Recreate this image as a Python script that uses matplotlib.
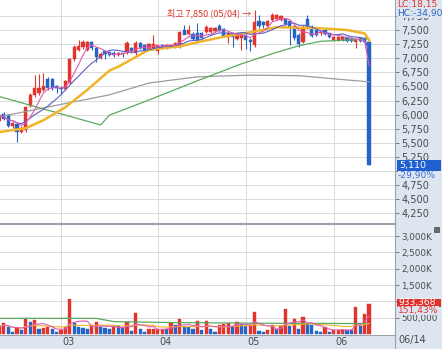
import matplotlib
matplotlib.use("Agg")
import matplotlib.pyplot as plt
from matplotlib.patches import Rectangle
from matplotlib.lines import Line2D
import numpy as np
import pandas as pd

plt.rcParams['font.family'] = ['DejaVu Sans']

# ---------------- data ----------------
opens = [5880, 6010, 5990, 5790, 5830, 5690, 5730, 6160, 6350, 6380,
         6440, 6640, 6630, 6500, 6480, 6460, 6560, 6980, 7150, 7200,
         7150, 7290, 7180, 7000, 7120, 7110, 7100, 7060, 7090, 7090,
         7180, 7090, 7270, 7240, 7160, 7160, 7130, 7230, 7180, 7210,
         7200, 7200, 7500, 7430, 7430, 7450, 7440, 7460, 7470, 7480,
         7570, 7510, 7380, 7440, 7340, 7350, 7420, 7330, 7240, 7660,
         7640, 7570, 7680, 7690, 7680, 7700, 7660, 7570, 7420, 7290,
         7700, 7560, 7500, 7440, 7500, 7440, 7320, 7320, 7320, 7370,
         7360, 7290, 7360, 7350, 7290]
highs = [6010, 6050, 6010, 5870, 5850, 5790, 6160, 6380, 6700, 6720,
         6730, 6660, 6650, 6520, 6500, 6620, 7000, 7230, 7320, 7320,
         7310, 7300, 7200, 7110, 7140, 7130, 7120, 7110, 7100, 7300,
         7200, 7310, 7290, 7260, 7270, 7420, 7240, 7250, 7260, 7260,
         7290, 7480, 7590, 7590, 7460, 7620, 7460, 7580, 7560, 7550,
         7600, 7530, 7460, 7460, 7460, 7460, 7440, 7350, 7850, 7770,
         7660, 7680, 7800, 7780, 7770, 7720, 7680, 7590, 7440, 7580,
         7760, 7580, 7520, 7490, 7520, 7450, 7400, 7390, 7390, 7380,
         7380, 7360, 7380, 7370, 7300]
lows = [5860, 5900, 5780, 5770, 5520, 5670, 5700, 6130, 6320, 6350,
        6410, 6440, 6440, 6390, 6370, 6440, 6540, 6950, 7120, 7170,
        7130, 7150, 6930, 6980, 6990, 7040, 7030, 7040, 7030, 7070,
        7100, 7060, 7160, 7120, 7140, 7140, 7080, 7160, 7160, 7190,
        7180, 7180, 7430, 7410, 7320, 7300, 7340, 7440, 7450, 7460,
        7480, 7380, 7270, 7200, 7320, 7150, 7170, 7130, 7200, 7540,
        7540, 7550, 7660, 7670, 7660, 7580, 7230, 7330, 7190, 7270,
        7520, 7370, 7390, 7420, 7410, 7360, 7300, 7300, 7300, 7290,
        7280, 7180, 7290, 7180, 5110]
closes = [5990, 5930, 5800, 5850, 5700, 5760, 6140, 6340, 6470, 6470,
          6500, 6470, 6470, 6470, 6450, 6590, 6980, 7200, 7210, 7290,
          7290, 7180, 7020, 7080, 7080, 7060, 7060, 7090, 7070, 7270,
          7120, 7270, 7180, 7140, 7250, 7250, 7230, 7180, 7240, 7240,
          7270, 7460, 7420, 7500, 7340, 7320, 7360, 7550, 7540, 7530,
          7480, 7400, 7440, 7380, 7410, 7440, 7320, 7280, 7640, 7570,
          7590, 7660, 7760, 7760, 7740, 7600, 7560, 7350, 7260, 7560,
          7540, 7390, 7410, 7470, 7430, 7380, 7380, 7370, 7370, 7310,
          7300, 7340, 7310, 7290, 5110]
volumes_k = [225, 327, 204, 72, 174, 123, 450, 378, 430, 143,
             194, 200, 143, 72, 123, 204, 1064, 327, 225, 174,
             165, 276, 358, 225, 174, 143, 245, 240, 174, 358,
             102, 634, 143, 72, 143, 150, 150, 160, 143, 327,
             276, 450, 204, 200, 143, 399, 123, 399, 143, 72,
             276, 307, 327, 204, 368, 310, 260, 280, 665, 102,
             72, 123, 276, 143, 245, 757, 245, 470, 143, 532,
             307, 276, 102, 72, 225, 72, 123, 130, 135, 123,
             115, 818, 245, 613, 933]

# moving-average lines read at sample points (index, value)
ma20_idx = [0, 6, 10, 15, 20, 25, 27, 34, 41, 46, 51, 57, 63, 68, 72, 79, 83, 84]
ma20_val = [5690, 5760, 5900, 6130, 6440, 6780, 6850, 7150, 7210, 7300,
            7380, 7460, 7550, 7540, 7535, 7500, 7440, 7320]
ma60_idx = [0, 23, 25, 34, 45, 55, 62, 68, 73, 84]
ma60_val = [6320, 5816, 5990, 6259, 6600, 6900, 7080, 7220, 7300, 7340]
ma120_idx = [0, 12, 25, 34, 45, 57, 68, 84]
ma120_val = [5960, 6150, 6350, 6560, 6670, 6700, 6690, 6580]
vma60_idx = [0, 22, 26, 40, 60, 84]
vma60_k = [480, 480, 380, 350, 330, 320]

month_ticks = [14, 36, 56, 76]
month_labels = ['03', '04', '05', '06']
price_ticks = [4250, 4500, 4750, 5000, 5250, 5500, 5750, 6000, 6250,
               6500, 6750, 7000, 7250, 7500, 7750]
# 5,000 is hidden behind the current-price box in the reference
price_tick_labels = ['4,250', '4,500', '4,750', '', '5,250', '5,500', '5,750',
                     '6,000', '6,250', '6,500', '6,750', '7,000', '7,250',
                     '7,500', '7,750']
vol_ticks = [500000, 1000000, 1500000, 2000000, 2500000, 3000000]
# 1,000K is hidden behind the current-volume box in the reference
vol_tick_labels = ['500,000', '', '1,500K', '2,000K', '2,500K', '3,000K']

high_label = '최고 7,850 (05/04) →'
last_date = '06/14'
last_price_text = '5,110'
last_change_text = '-29,90%'
last_vol_text = '933,368'
last_vol_change = '151,43%'
lc_text = 'LC:18,15'
hc_text = 'HC:-34,90'

# ---------------- styling ----------------
RED = '#e0342c'
BLUE = '#2563c4'
BG = '#dde6f0'
GRID = '#dadada'
SPINE = '#9aa3ad'
TXT = '#4a4a4a'

W, H = 442, 349
fig = plt.figure(figsize=(W / 100, H / 100), dpi=100, facecolor=BG)


def fx(px):
    return px / W


def fy(py):
    return 1 - py / H


PANEL_R = 395
ax = fig.add_axes([0, fy(223), fx(PANEL_R), 223 / H])
axv = fig.add_axes([0, fy(335), fx(PANEL_R), (335 - 224) / H])

o = np.array(opens, float)
h = np.array(highs, float)
l = np.array(lows, float)
c = np.array(closes, float)
x = np.arange(len(c))
cols = np.where(c >= o, RED, BLUE)

XL = (0.14, 89.9)

# price panel
ax.set_facecolor('white')
ax.vlines(x, l, h, colors=cols, lw=0.8, zorder=2)
body_b = np.minimum(o, c)
body_h = np.maximum(np.abs(c - o), 10)
ax.bar(x, body_h, bottom=body_b, width=0.72, color=cols, edgecolor=cols,
       linewidth=0.3, zorder=2.5)

cs = pd.Series(c)
ax.plot(ma120_idx, ma120_val, color='#9c9c9c', lw=0.9, zorder=3)
ax.plot(ma60_idx, ma60_val, color='#5aaa5e', lw=0.9, zorder=3)
ax.plot(ma20_idx, ma20_val, color='#f0b429', lw=1.8, zorder=3)
ax.plot(x, cs.rolling(10, min_periods=1).mean(), color='#5b5fc7', lw=0.8, zorder=3.2)
ax.plot(x, cs.rolling(5, min_periods=1).mean(), color='#e05bb5', lw=0.8, zorder=3.3)

ax.set_xlim(*XL)
ax.set_ylim(4078, 8032)
ax.set_yticks(price_ticks)
ax.set_yticklabels(price_tick_labels)
ax.yaxis.tick_right()
ax.tick_params(axis='y', direction='out', length=3, width=0.6, pad=1.5,
               labelsize=7, color='#666', labelcolor=TXT)
ax.set_xticks(month_ticks)
ax.tick_params(axis='x', length=0, labelbottom=False)
ax.grid(True, color=GRID, lw=0.7, zorder=0)
for s in ['left', 'top']:
    ax.spines[s].set_visible(False)
for s in ['right', 'bottom']:
    ax.spines[s].set_color(SPINE)
    ax.spines[s].set_linewidth(0.8)

imax = int(np.argmax(h))
ax.text(imax - 0.8, h[imax] - 55, high_label, ha='right', va='center',
        fontsize=6.5, color=RED, family=['Noto Sans CJK KR', 'DejaVu Sans'], zorder=5)

# volume panel
v = np.array(volumes_k, float) * 1000
vcols = [RED] + [RED if v[i] >= v[i - 1] else BLUE for i in range(1, len(v))]
axv.set_facecolor('white')
axv.bar(x, v, width=0.72, color=vcols, edgecolor=vcols, linewidth=0.3, zorder=2)
vs = pd.Series(v)
axv.plot(vma60_idx, np.array(vma60_k) * 1000, color='#5aaa5e', lw=0.9, zorder=3)
axv.plot(x, vs.rolling(20, min_periods=1).mean(), color='#f0b429', lw=0.8, zorder=3)
axv.plot(x, vs.rolling(5, min_periods=1).mean(), color='#e05bb5', lw=0.8, zorder=3)
axv.set_xlim(*XL)
axv.set_ylim(-30700, 3374000)
axv.set_yticks(vol_ticks)
axv.set_yticklabels(vol_tick_labels)
axv.yaxis.tick_right()
axv.tick_params(axis='y', direction='out', length=3, width=0.6, pad=1.5,
                labelsize=6.3, color='#666', labelcolor=TXT)
axv.set_xticks(month_ticks)
axv.tick_params(axis='x', length=0, labelbottom=False)
axv.grid(True, color=GRID, lw=0.7, zorder=0)
axv.spines['left'].set_visible(False)
for s in ['right', 'bottom', 'top']:
    axv.spines[s].set_color(SPINE)
    axv.spines[s].set_linewidth(0.8)

for t, lab in zip(month_ticks, month_labels):
    axv.text(t + 0.35, -0.02, lab, transform=axv.get_xaxis_transform(),
             ha='left', va='top', fontsize=7, color=TXT, clip_on=False)

# right-axis overlays
fig.add_artist(Line2D([fx(PANEL_R), fx(PANEL_R)], [fy(335), fy(349)], color=SPINE, lw=0.8))
fig.text(fx(398), fy(340.5), last_date, fontsize=7, color=TXT, va='center', ha='left')

fig.text(fx(397), fy(4.5), lc_text, fontsize=6.6, color=RED, va='center', ha='left',
         bbox=dict(facecolor=BG, edgecolor='none', pad=0.2))
fig.text(fx(397), fy(13.5), hc_text, fontsize=6.6, color=BLUE, va='center', ha='left',
         bbox=dict(facecolor=BG, edgecolor='none', pad=0.2))

fig.add_artist(Rectangle((fx(397), fy(170.5)), fx(44), 10.5 / H, transform=fig.transFigure,
                         facecolor='#1f5fd0', edgecolor='none'))
fig.text(fx(399), fy(165.3), last_price_text, fontsize=6.8, color='white', va='center', ha='left')
fig.text(fx(398), fy(175.5), last_change_text, fontsize=6.6, color='#3b6fd6', va='center', ha='left',
         bbox=dict(facecolor=BG, edgecolor='none', pad=0.2))

fig.add_artist(Rectangle((fx(397), fy(307)), fx(44), 8.5 / H, transform=fig.transFigure,
                         facecolor='#e0302a', edgecolor='none'))
fig.text(fx(398.5), fy(302.8), last_vol_text, fontsize=6.6, color='white', va='center', ha='left')
fig.text(fx(398), fy(310.5), last_vol_change, fontsize=6.6, color=RED, va='center', ha='left',
         bbox=dict(facecolor=BG, edgecolor='none', pad=0.2))

fig.add_artist(Rectangle((fx(433.5), fy(232)), fx(5), 5 / H, transform=fig.transFigure,
                         facecolor='#6a6a6a', edgecolor='#444', lw=0.5))

fig.savefig('out.png', dpi=100, facecolor=BG)
